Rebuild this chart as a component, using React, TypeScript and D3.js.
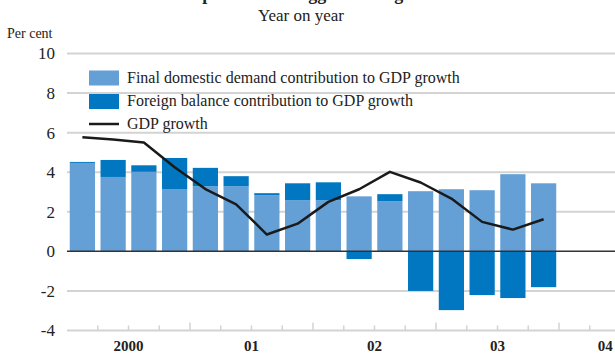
import * as d3 from "d3";

const quarters = [
  "2000Q1", "2000Q2", "2000Q3", "2000Q4",
  "2001Q1", "2001Q2", "2001Q3", "2001Q4",
  "2002Q1", "2002Q2", "2002Q3", "2002Q4",
  "2003Q1", "2003Q2", "2003Q3", "2003Q4",
  "2004Q1", "2004Q2", "2004Q3",
];
const years = ["2000", "01", "02", "03", "04"];
const domestic = [4.47, 3.76, 4.02, 3.15, 3.29, 3.29, 2.84, 2.58, 2.58, 2.78, 2.53, 3.04, 3.14, 3.09, 3.9, 3.44];
const foreign = [0.05, 0.86, 0.33, 1.57, 0.93, 0.51, 0.1, 0.86, 0.91, -0.39, 0.36, -2.0, -2.97, -2.21, -2.36, -1.81];
const gdp = [5.77, 5.65, 5.5, 4.25, 3.15, 2.38, 0.85, 1.4, 2.5, 3.14, 4.02, 3.48, 2.67, 1.49, 1.1, 1.62];
const yTicks = [10, 8, 6, 4, 2, 0, -2, -4];
const legendItems = [
  "Final domestic demand contribution to GDP growth",
  "Foreign balance contribution to GDP growth",
  "GDP growth",
];

const width = 615;
const height = 353;
const marginLeft = 67;
const step = 30.75;
const light = "#649fd6";
const dark = "#0077c0";
const font = "Liberation Serif";

export default function App() {
  const x = d3
    .scaleBand()
    .domain(quarters)
    .range([marginLeft, marginLeft + step * quarters.length])
    .paddingInner(0.18)
    .paddingOuter(0.09);

  const y = d3.scaleLinear().domain([-4, 10]).range([330.5, 53.5]);

  const line = d3
    .line<number>()
    .x((d, i) => x(quarters[i])! + x.bandwidth() / 2)
    .y((d) => y(d));

  // quarter boundaries, year boundaries get a taller tick
  const bounds = quarters.slice(1).map((q, i) => ({
    pos: marginLeft + (i + 1) * x.step(),
    major: q.endsWith("Q1"),
  }));

  const yearCenter = (yr: string) => {
    const full = yr.length === 4 ? yr : "20" + yr;
    const qs = quarters.filter((q) => q.startsWith(full));
    const a = x(qs[0])! - x.step() * x.paddingOuter();
    const b = a + qs.length * x.step();
    return (a + b) / 2;
  };

  return (
    <div style={{ position: "absolute", left: 0, top: 0 }}>
      <svg width={width} height={height} fontFamily={font} style={{ display: "block" }}>
        <rect width={width} height={height} fill="#fff" />
        <text x={307} y={0} textAnchor="middle" fontSize={18} fontWeight="bold" fill="#222">
          Components of sluggish GDP growth
        </text>
        <text x={301} y={21} textAnchor="middle" fontSize={17} fill="#222">
          Year on year
        </text>
        <text x={7} y={38} fontSize={14} fill="#222">
          Per cent
        </text>

        {/* grid */}
        {yTicks.map((t) => (
          <g key={t}>
            {t !== 0 && (
              <line x1={marginLeft} x2={width} y1={y(t)} y2={y(t)} stroke="#d3d3d3" strokeWidth={2} />
            )}
            <text x={55} y={y(t)} dy="0.35em" textAnchor="end" fontSize={17} fill="#222">
              {t}
            </text>
          </g>
        ))}

        {/* bottom ticks */}
        {bounds.map((b, i) => (
          <line
            key={i}
            x1={b.pos}
            x2={b.pos}
            y1={y(-4)}
            y2={y(-4) - (b.major ? 8 : 5)}
            stroke="#d3d3d3"
            strokeWidth={1.5}
          />
        ))}
        {years.map((yr) => (
          <text key={yr} x={yearCenter(yr)} y={351} textAnchor="middle" fontSize={15} fontWeight="bold" fill="#222">
            {yr}
          </text>
        ))}

        {/* bars */}
        {domestic.map((d, i) => {
          const f = foreign[i];
          const bx = x(quarters[i])!;
          const bw = x.bandwidth();
          return (
            <g key={i}>
              <rect x={bx} width={bw} y={y(d)} height={y(0) - y(d)} fill={light} />
              {f >= 0 ? (
                <rect x={bx} width={bw} y={y(d + f)} height={y(d) - y(d + f)} fill={dark} />
              ) : (
                <rect x={bx} width={bw} y={y(0)} height={y(f) - y(0)} fill={dark} />
              )}
            </g>
          );
        })}

        <line x1={marginLeft} x2={width} y1={y(0)} y2={y(0)} stroke="#333" strokeWidth={1.5} />

        <path d={line(gdp) || ""} fill="none" stroke="#1a1a1a" strokeWidth={2.5} strokeLinejoin="round" />

        {/* legend */}
        <g transform="translate(89,70.5)">
          <rect x={0} y={0} width={30} height={15} fill={light} />
          <rect x={0} y={23.5} width={30} height={15} fill={dark} />
          <line x1={0} x2={30} y1={53.5} y2={53.5} stroke="#1a1a1a" strokeWidth={2.5} />
          {legendItems.map((t, i) => (
            <text key={t} x={38} y={12.5 + i * 23} fontSize={16} fill="#222">
              {t}
            </text>
          ))}
        </g>
      </svg>
    </div>
  );
}
